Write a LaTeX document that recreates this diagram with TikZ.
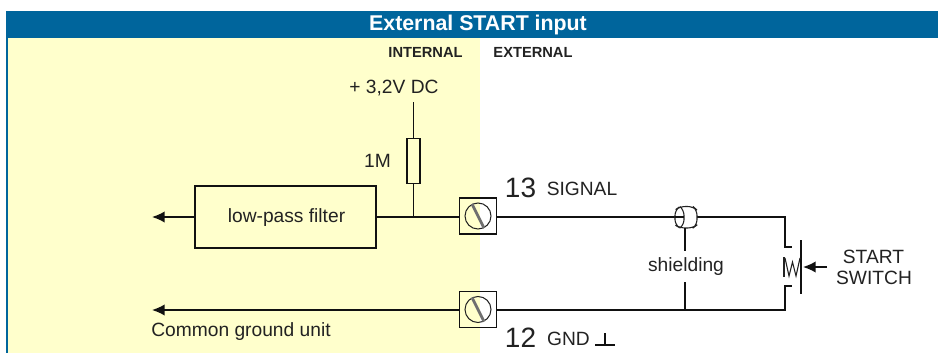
\documentclass[tikz,border=0pt]{standalone}
\usepackage{fontspec}
\setmainfont{Liberation Sans}
\usetikzlibrary{arrows.meta,calc}
\definecolor{hdr}{HTML}{00659C}
\definecolor{pane}{HTML}{FFFFCC}
\definecolor{ink}{HTML}{222222}
\definecolor{lineink}{HTML}{111111}
\tikzset{
  x=0.75pt,y=-0.75pt,
  wire/.style={draw=lineink,line width=1.1pt},
  arr/.style={wire,-{Latex[length=9.5pt,width=8.5pt]}},
  lbl/.style={inner sep=0pt,text=ink,font=\fontsize{14.4}{14}\selectfont},
  head/.style={inner sep=0pt,text=ink,font=\bfseries\fontsize{11}{11}\selectfont},
  num/.style={inner sep=0pt,text=ink,font=\fontsize{21}{21}\selectfont},
  boxn/.style={draw=lineink,line width=1.1pt,inner sep=0pt},
  term/.style={boxn,minimum width=28pt,minimum height=27pt},
}
\newcommand{\screw}[1]{%
  \draw[ink,line width=0.75pt] (#1) circle (13);
  \draw[ink!65,line width=2.1pt] ($(#1)+(-6,-12)$) -- ($(#1)+(6,12)$);
}
\begin{document}
\begin{tikzpicture}
\useasboundingbox (0,0) rectangle (938,353);
\fill[white] (0,0) rectangle (938,353);
\fill[pane] (7,38) rectangle (480,353);
\fill[hdr] (5.5,11) rectangle (938,38);
\fill[hdr] (5.5,38) rectangle (7.5,353);
\node[inner sep=0pt,text=white,font=\bfseries\fontsize{16}{16}\selectfont] (title) at (478,25) {External START input};
\node[head] (int) at (425.5,52) {INTERNAL};
\node[head] (ext) at (533,52) {EXTERNAL};
\node[lbl] (vdc) at (394,88) {+ 3,2V DC};
\node[lbl] (rl) at (377.5,161) {1M};
\node[boxn,minimum width=10pt,minimum height=33.75pt] (res) at (413.5,161) {};
\node[boxn,minimum width=136pt,minimum height=46.5pt] (filt) at (285.5,217) {};
\node[lbl] (fl) at (286.5,218) {low-pass filter};
\node[term] (t13) at (478,216) {};
\node[term] (t12) at (478,309.5) {};
\screw{t13}
\screw{t12}
\node[num] (n13) at (520.5,188) {13};
\node[lbl] (sig) at (582,189) {SIGNAL};
\node[num] (n12) at (520.5,338) {12};
\node[lbl] (gnd) at (568.5,339) {GND};
\coordinate (gt) at (605,345);
\draw[wire] ($(gt)+(-10,0)$) -- ($(gt)+(10,0)$) (gt) -- ($(gt)+(0,-12)$);
\node[lbl] (cg) at (241,331.5) {Common ground unit};
\node[lbl] (sh) at (686,267) {shielding};
\node[lbl] (st) at (873.5,256.5) {START};
\node[lbl] (sw) at (874,277.5) {SWITCH};
\coordinate (vtop) at (413.5,102);
\coordinate (j) at (413.5,217);
\coordinate (fa) at (152,217);
\coordinate (ga) at (152,310);
\draw[wire] (vtop) -- (res.north);
\draw[wire] (res.south) -- (j);
\draw[wire] (filt.east |- j) -- (t13.west |- j);
\draw[arr] (filt.west |- j) -- (fa);
\draw[arr] (t12.west |- ga) -- (ga);
\coordinate (sl) at (675,217);
\coordinate (sr) at (697,217);
\draw[wire] (t13.east |- j) -- (sl);
\draw[wire] (sr) -- (785,217) -- (785,247) -- (792,247);
\draw[wire] (t12.east |- ga) -- (785,310) -- (785,286) -- (792,286);
% shielding sleeve
\draw[draw=ink,line width=0.8pt,rounded corners=4pt] (680,206.5) -- (693,206.5) -- (697,210) -- (697,225) -- (693,228) -- (680,228) -- (675,225) -- (675,210) -- cycle;
\draw[draw=ink,line width=0.8pt,rounded corners=4pt] (680,206.5) -- (684,210) -- (684,225) -- (680,228);
\draw[wire] (sl) -- (684,217);
\draw[wire] (685,228) -- (685,251);
\draw[wire] (685,282) -- (685,310);
% push switch
\draw[wire] (801,240) -- (801,294);
\draw[draw=ink,line width=0.8pt] (784,257) -- (784,277);
\draw[draw=ink,line width=0.8pt] (785,258) -- (789,276) -- (792.5,262) -- (796,276) -- (800,258);
\coordinate (pa) at (803,267);
\coordinate (ps) at (827,267);
\draw[arr] (ps) -- (pa);
\end{tikzpicture}
\end{document}
